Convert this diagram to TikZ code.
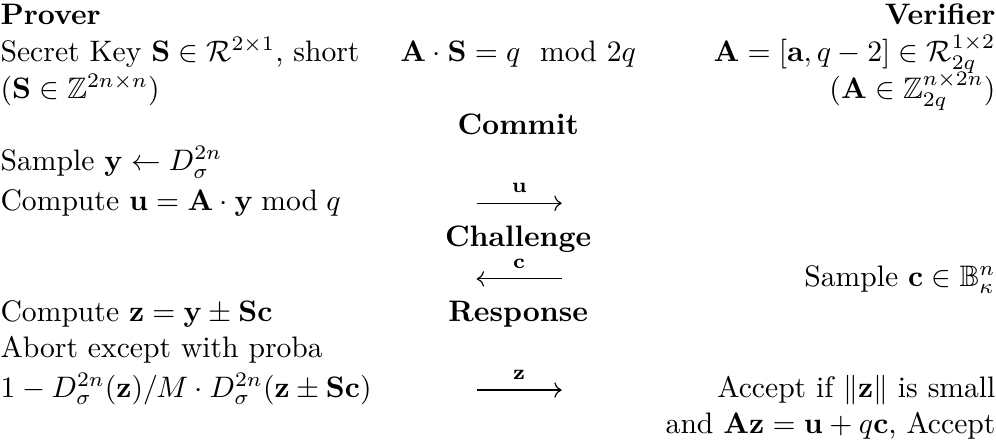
\documentclass[tikz,border=0pt]{standalone}
\usepackage{amsmath, amssymb}
\usetikzlibrary{arrows.meta}

\begin{document}
\begin{tikzpicture}[x=1pt, y=-1pt, >=To,
  lft/.style={anchor=base west, inner sep=0pt},
  rgt/.style={anchor=base east, inner sep=0pt},
  phase/.style={anchor=base, inner sep=0pt, font=\bfseries},
  msg/.style={->, line width=0.4pt},
  lbl/.style={anchor=base, inner sep=0pt, yshift=3.5pt}]
  \useasboundingbox (0,0) rectangle (336,149.8);

  % Headers
  \node[lft, font=\bfseries] (prover) at (0,8.4) {Prover};
  \node[rgt, font=\bfseries] (verifier) at (336,8.4) {Verifier};

  % Key setup
  \node[lft] (skey) at (0,20.64) {Secret Key $\mathbf{S}\in\mathcal{R}^{2\times 1}$, short};
  \node[phase, font=\normalfont] (rel) at (174.8,20.64) {$\mathbf{A}\cdot\mathbf{S} = q \mod 2q$};
  \node[rgt] (pkey) at (336,20.64) {$\mathbf{A} = [\mathbf{a}, q-2]\in\mathcal{R}_{2q}^{1\times 2}$};
  \node[lft] (sdim) at (0,33.11) {$(\mathbf{S}\in\mathbb{Z}^{2n\times n})$};
  \node[rgt] (adim) at (336,33.11) {$(\mathbf{A}\in\mathbb{Z}_{2q}^{n\times 2n})$};

  % Commit
  \node[phase] (commit) at (174.8,45.34) {Commit};
  \node[lft] (samy) at (0,57.58) {Sample $\mathbf{y}\leftarrow D_\sigma^{2n}$};
  \node[lft] (compu) at (0,71.08) {Compute $\mathbf{u} = \mathbf{A}\cdot\mathbf{y} \bmod q$};
  \coordinate (u0) at (160.8,68.58);
  \coordinate (u1) at (189.5,68.58);
  \draw[msg] (u0) -- node[lbl] (ulbl) {$\scriptstyle\mathbf{u}$} (u1);

  % Challenge
  \node[phase] (chal) at (174.8,83.08) {Challenge};
  \coordinate (c0) at (189.5,94.08);
  \coordinate (c1) at (160.8,94.08);
  \draw[msg] (c0) -- node[lbl] (clbl) {$\scriptstyle\mathbf{c}$} (c1);
  \node[rgt] (samc) at (336,96.58) {Sample $\mathbf{c}\in\mathbb{B}_\kappa^n$};

  % Response
  \node[lft] (compz) at (0,108.58) {Compute $\mathbf{z} = \mathbf{y}\pm\mathbf{Sc}$};
  \node[phase] (resp) at (174.8,108.58) {Response};
  \node[lft] (abort) at (0,120.58) {Abort except with proba};
  \node[lft] (proba) at (0,134.08) {$1 - D_\sigma^{2n}(\mathbf{z})/M\cdot D_\sigma^{2n}(\mathbf{z}\pm\mathbf{Sc})$};
  \coordinate (z0) at (160.8,131.58);
  \coordinate (z1) at (189.5,131.58);
  \draw[msg] (z0) -- node[lbl] (zlbl) {$\scriptstyle\mathbf{z}$} (z1);
  \node[rgt] (acc1) at (336,134.08) {Accept if $\|\mathbf{z}\|$ is small};
  \node[rgt] (acc2) at (336,146.08) {and $\mathbf{Az} = \mathbf{u} + q\mathbf{c}$, Accept};
\end{tikzpicture}
\end{document}
